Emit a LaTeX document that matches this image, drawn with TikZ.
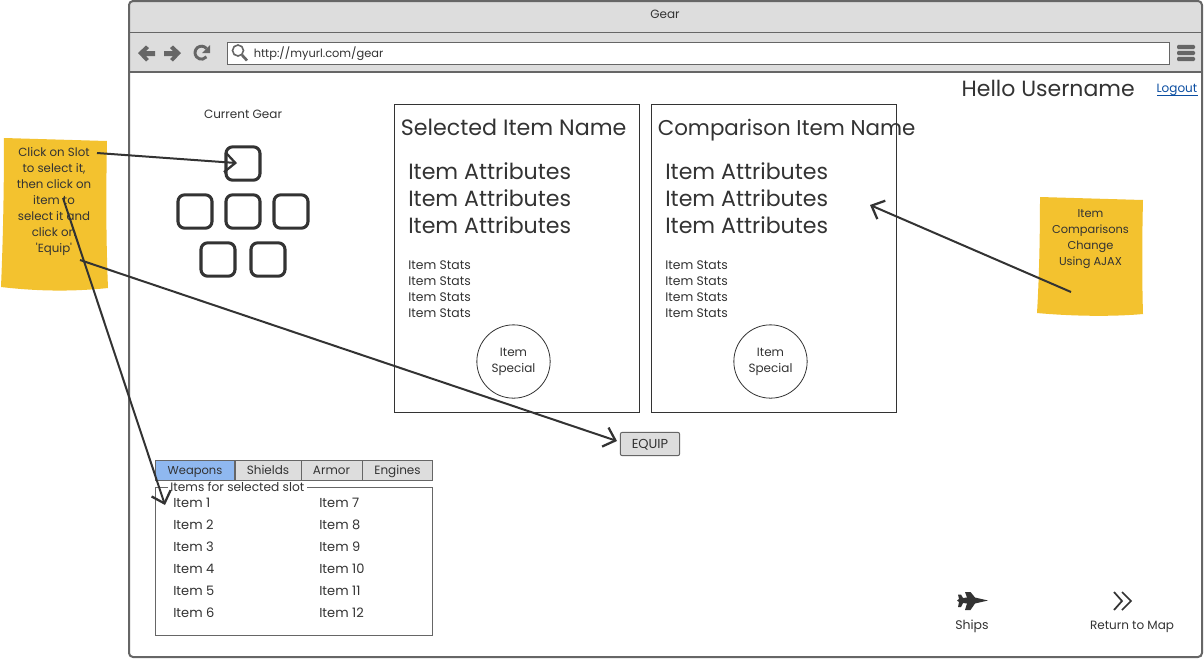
\documentclass[tikz,border=0pt]{standalone}
\usepackage{fontspec}
\setmainfont{Poppins}
\newfontfamily\plainf{Poppins}
\usetikzlibrary{arrows.meta}
\definecolor{ink}{HTML}{333333}
\definecolor{frameg}{HTML}{666666}
\definecolor{barg}{HTML}{DDDDDD}
\definecolor{notey}{HTML}{F3C22F}
\definecolor{tabb}{HTML}{8FB8F0}
\definecolor{linkb}{HTML}{0B4EA2}
\newcommand{\fpx}[1]{\fontsize{\dimexpr#1pt*3/4\relax}{12pt}\selectfont}
\tikzset{
  x=0.75pt,y=-0.75pt,
  txt/.style={text=ink,inner sep=0pt,font=\fpx{#1},text height=#1*0.675pt,text depth=#1*0.105pt},
  txt/.default=13,
  mtxt/.style={text=ink,inner sep=0pt,font=\fpx{#1},align=center},
  slotbox/.style={draw=ink,line width=2.3pt,rounded corners=5pt,minimum width=25.5pt,minimum height=25pt,inner sep=0pt,fill=white},
  panel/.style={draw=ink,line width=0.75pt,fill=none,inner sep=0pt,minimum width=184pt,minimum height=231pt},
  specialc/.style={draw=ink,line width=0.6pt,circle,minimum size=55pt,inner sep=0pt,mtxt=12,align=center},
  tabbox/.style={draw=frameg,line width=0.75pt,fill=barg,inner sep=0pt,minimum height=15pt,txt=#1},
  tabbox/.default=12,
  note/.style={fill=notey,draw=none},
  callout/.style={draw=ink,line width=1.5pt,-{Straight Barb[length=8pt,width=15pt,line width=1.7pt]}},
  greyicon/.style={fill=frameg,draw=none},
}
\begin{document}
\begin{tikzpicture}
\useasboundingbox (0,0) rectangle (1204,658);
% browser frame
\fill[white] (129,1) rectangle (1202,657);
\fill[barg,rounded corners=3pt] (129,1) rectangle (1202,40);
\fill[barg] (129,20) rectangle (1202,72);
\draw[frameg,line width=0.75pt] (129,32.5) -- (1202,32.5);
\draw[frameg,line width=1pt] (129,72) -- (1202,72);
\draw[frameg,line width=1.5pt,rounded corners=3pt] (129,1) rectangle (1202,657);
\node[txt=12] (title) at (665,14) {Gear};
% nav icons
\fill[greyicon] (138,53) -- (146,45.5) -- (149,48) -- (146,51) -- (155,51) -- (155,56) -- (146,56) -- (149,59) -- (146,61.5) -- cycle;
\fill[greyicon] (181,53) -- (173,45.5) -- (170,48) -- (173,51) -- (164,51) -- (164,56) -- (173,56) -- (170,59) -- (173,61.5) -- cycle;
\draw[frameg,line width=2.2pt] (206.5,48.5) arc[start angle=-40,end angle=-320,radius=6.5];
\fill[greyicon] (210,45) -- (210,53) -- (202,53) -- cycle;
\node[draw=frameg,line width=0.75pt,fill=white,minimum width=706.5pt,minimum height=17pt,inner sep=0pt] (url) at (698,53.5) {};
\draw[frameg,line width=1.2pt] (238,50.5) circle[radius=5.5];
\draw[frameg,line width=2pt] (242,55) -- (247,60.5);
\node[txt=11.4,anchor=west] (urltext) at (253.5,53.5) {http://myurl.com/gear};
\foreach \yy in {47,53,59}{\fill[frameg,rounded corners=1pt] (1177,\yy-2.2) rectangle (1195,\yy+2.2);}
% header
\node[txt=22,anchor=east] (hello) at (1135,88) {Hello Username};
\node[txt=12,anchor=east,text=linkb] (logout) at (1197.5,88) {Logout};
\draw[linkb,line width=0.8pt] (1157,95.5) -- (1197.5,95.5);
\node[txt=12] (gearlabel) at (243,113.5) {Current Gear};
% slots
\node[slotbox] (s1) at (243,163.5) {};
\node[slotbox] (s2) at (195,211.5) {};
\node[slotbox] (s3) at (243,211.5) {};
\node[slotbox] (s4) at (291,211.5) {};
\node[slotbox] (s5) at (218,259.5) {};
\node[slotbox] (s6) at (268,259.5) {};
% panels
\node[panel] (p1) at (517,258.5) {};
\node[panel] (p2) at (774,258.5) {};
\node[txt=22.2,anchor=west] (n1) at (400.5,127) {Selected Item Name};
\node[txt=21.4,anchor=west] (n2) at (657.5,127) {Comparison Item Name};
\foreach \yy/\k in {171/a,198/b,225/c}{
  \node[txt=22.1,anchor=west] (a1\k) at (408,\yy) {Item Attributes};
  \node[txt=22.1,anchor=west] (a2\k) at (665,\yy) {Item Attributes};
}
\foreach \yy/\k in {265/a,281/b,297/c,313/d}{
  \node[txt=12.4,anchor=west] (st1\k) at (408,\yy) {Item Stats};
  \node[txt=12.4,anchor=west] (st2\k) at (665,\yy) {Item Stats};
}
\node[specialc] (c1) at (513.5,361.5) {Item\\Special};
\node[specialc] (c2) at (770.5,361.5) {Item\\Special};
% equip
\node[draw=frameg,line width=0.75pt,fill=barg,rounded corners=1.5pt,minimum width=44.5pt,minimum height=17.5pt,inner sep=0pt,txt=13] (equip) at (650,444) {EQUIP};
% tabs
\node[tabbox=11.5,fill=tabb,minimum width=59.5pt] (t1) at (195,470) {Weapons};
\node[tabbox,minimum width=49.5pt] (t2) at (268,470) {Shields};
\node[tabbox,minimum width=45.75pt] (t3) at (331.5,470) {Armor};
\node[tabbox,minimum width=52.5pt] (t4) at (397.5,470) {Engines};
% list box
\node[draw=frameg,line width=0.75pt,minimum width=208pt,minimum height=111.5pt,inner sep=0pt] (list) at (294,561.5) {};
\node[txt=12.2,fill=white,inner xsep=2pt,anchor=west] (legend) at (167.5,487) {Items for selected slot};
\foreach \yy/\i/\j in {503/1/7,525/2/8,547/3/9,569/4/10,591/5/11,613/6/12}{
  \node[txt=13,anchor=west] (il\i) at (173,\yy) {Item \i};
  \node[txt=13,anchor=west] (ir\j) at (319,\yy) {Item \j};
}
% bottom icons
\fill[ink] (988,600.5) -- (975,597.5) -- (970.5,592) -- (965,592) -- (967,597.5) -- (963,598) -- (961,594.5) -- (958,594.5) -- (959,599) -- (957,600.5) -- (959,602) -- (958,607) -- (961,607) -- (963,603) -- (967,603.5) -- (965,610) -- (970.5,610) -- (975,603.5) -- cycle;
\draw[ink,line width=1.3pt] (1114,592) -- (1122,601) -- (1114,610);
\draw[ink,line width=1.3pt] (1122,592) -- (1131,601) -- (1122,610);
\node[txt=12.5] (ships) at (972,624.5) {Ships};
\node[txt=12] (ret) at (1132,624.5) {Return to Map};
% notes
\fill[note] (4,138) -- (107,141) .. controls (106,190) and (106,240) .. (108,288) .. controls (70,292) and (35,291) .. (1,287) .. controls (3,240) and (4,190) .. (4,138) -- cycle;
\node[mtxt=11.8] (note1) at (54,202) {Click on Slot\\to select it,\\then click on\\item to\\select it and\\click on\\{\plainf 'Equip'}};
\fill[note] (1040,197) -- (1143,200) .. controls (1142,240) and (1142,280) .. (1143,314) .. controls (1110,317) and (1070,316) .. (1037,313) .. controls (1039,280) and (1040,240) .. (1040,197) -- cycle;
\node[mtxt=11.4] (note2) at (1090.5,239) {Item\\Comparisons\\Change\\Using AJAX};
% connector anchors
\coordinate (from1) at (97,153);
\coordinate (from2) at (63,198);
\coordinate (from3) at (80,260);
\coordinate (from4) at (1071,292);
\coordinate (to2) at (165,505);
\coordinate (to3) at (617,441);
\coordinate (to4) at (870,205);
\draw[callout,shorten >=4.5pt] (from1) -- (s1.center);
\draw[callout] (from2) -- (to2);
\draw[callout] (from3) -- (to3);
\draw[callout] (from4) -- (to4);
\end{tikzpicture}
\end{document}
